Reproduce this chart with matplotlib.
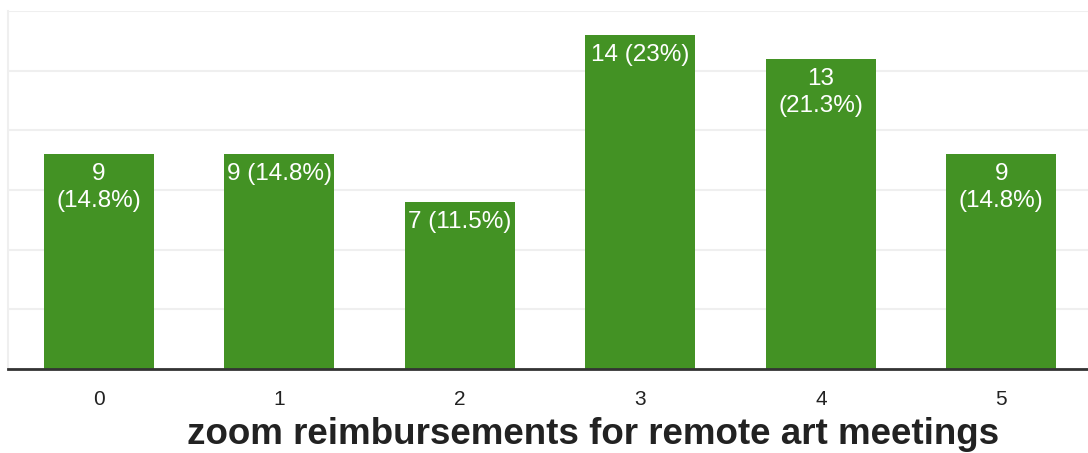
import matplotlib.pyplot as plt

plt.rcParams['font.family'] = ['Liberation Sans', 'DejaVu Sans']

categories = ['0', '1', '2', '3', '4', '5']
counts = [9, 9, 7, 14, 13, 9]
bar_labels = ['9\n(14.8%)', '9 (14.8%)', '7 (11.5%)', '14 (23%)', '13\n(21.3%)', '9\n(14.8%)']
title = 'zoom reimbursements for remote art meetings'

W, H = 1088, 453
fig = plt.figure(figsize=(W / 100, H / 100), dpi=100)
ax = fig.add_axes([8 / W, (H - 369) / H, 1 - 8 / W, (369 - 11) / H])

x = list(range(len(categories)))
ax.bar(x, counts, width=0.61, color='#439224', zorder=2)

for xi, c, lab in zip(x, counts, bar_labels):
    ax.annotate(lab, (xi, c), xytext=(0, -6.5), textcoords='offset points',
                ha='center', va='top', color='white', fontsize=17.5,
                linespacing=1.3, zorder=3)

ax.set_xlim(-0.504, 5.48)
ax.set_ylim(0, 15)
ax.set_yticks([0, 2.5, 5, 7.5, 10, 12.5, 15])
ax.yaxis.grid(True, color='#efefef', linewidth=1.5, zorder=0)
ax.tick_params(axis='y', left=False, labelleft=False)
ax.set_xticks(x)
ax.set_xticklabels(categories, fontsize=15, color='#222222')
ax.tick_params(axis='x', length=0, pad=15)

for s in ['top', 'right']:
    ax.spines[s].set_visible(False)
ax.spines['left'].set_color('#efefef')
ax.spines['left'].set_linewidth(1.5)
ax.spines['bottom'].set_color('#333333')
ax.spines['bottom'].set_linewidth(2)
ax.spines['bottom'].set_zorder(4)

fig.text(593 / W, 1 - 435 / H, title, ha='center', va='center',
         fontsize=26.5, fontweight='bold', color='#222222')

fig.savefig('out.png', dpi=100)
